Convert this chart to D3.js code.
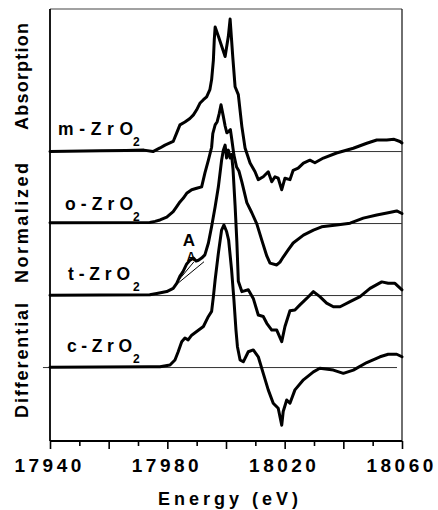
<!DOCTYPE html>
<html>
<head>
<meta charset="utf-8">
<script src="https://cdn.jsdelivr.net/npm/d3@7"></script>
<style>
  html, body { margin: 0; padding: 0; background: #fff; }
  svg { display: block; }
  text { font-family: "Liberation Sans", Arial, Helvetica, sans-serif; font-weight: bold; fill: #000; }
</style>
</head>
<body>
<svg id="chart" width="438" height="510"></svg>
<script>
// Zr K-edge XANES of the four ZrO2 polymorphs, stacked with unit offsets.
const phases = ["m", "o", "t", "c"];
const offsets = [3, 2, 1, 0];

const energyM = [17940.0, 17957.0, 17966.0, 17972.0, 17975.1, 17977.5, 17979.2, 17982.0, 17983.2, 17984.3,
  17986.0, 17987.7, 17988.9, 17990.0, 17991.1, 17992.3, 17993.4, 17994.5, 17995.1, 17995.7,
  17996.0, 17996.3, 17997.4, 17999.7, 18000.8, 18001.4, 18002.3, 18003.1, 18004.2, 18005.4,
  18006.5, 18008.2, 18009.9, 18011.0, 18012.7, 18014.4, 18015.6, 18016.7, 18017.8, 18019.0,
  18020.1, 18021.8, 18022.9, 18024.6, 18026.4, 18028.6, 18030.3, 18033.2, 18037.7, 18043.4,
  18048.0, 18051.4, 18054.8, 18057.3, 18059.3, 18060.0];
const absM = [0.00, 0.01, 0.015, 0.02, 0.00, 0.05, 0.09, 0.14, 0.26, 0.37,
  0.41, 0.46, 0.51, 0.58, 0.67, 0.72, 0.76, 0.86, 1.00, 1.27,
  1.55, 1.73, 1.60, 1.32, 1.60, 1.84, 1.32, 0.90, 0.79, 0.35,
  0.05, -0.16, -0.28, -0.39, -0.35, -0.28, -0.42, -0.35, -0.37, -0.53,
  -0.37, -0.39, -0.26, -0.23, -0.16, -0.12, -0.155, -0.09, -0.02, 0.046,
  0.115, 0.16, 0.16, 0.17, 0.14, 0.12];

const energyO = [17940.0, 17974.0, 17975.8, 17977.5, 17979.8, 17982.0, 17983.2, 17984.3, 17985.4, 17986.6,
  17988.3, 17990.0, 17991.7, 17992.8, 17994.0, 17995.1, 17995.5, 17996.3, 17997.0, 17997.7,
  17998.3, 17999.1, 17999.7, 18000.3, 18001.0, 18001.5, 18002.0, 18002.7, 18003.6, 18004.4,
  18005.4, 18007.1, 18008.8, 18010.5, 18012.2, 18013.9, 18015.0, 18017.3, 18018.4, 18019.5,
  18021.2, 18022.9, 18026.4, 18029.8, 18032.6, 18037.7, 18042.3, 18046.8, 18051.4, 18055.3,
  18058.2, 18060.0];
const absO = [0.01, 0.015, 0.03, 0.05, 0.09, 0.165, 0.235, 0.30, 0.35, 0.42,
  0.47, 0.49, 0.51, 0.70, 0.88, 1.06, 1.25, 1.37, 1.415, 1.53,
  1.65, 1.485, 1.355, 1.26, 1.285, 1.305, 1.16, 0.95, 0.785, 0.73,
  0.58, 0.29, 0.15, -0.005, -0.23, -0.45, -0.55, -0.575, -0.535, -0.465,
  -0.365, -0.27, -0.16, -0.09, -0.045, -0.02, 0.005, 0.075, 0.12, 0.15,
  0.175, 0.14];

const energyT = [17940.0, 17974.0, 17976.4, 17979.8, 17982.0, 17983.2, 17984.3, 17985.3, 17986.6, 17987.7,
  17988.9, 17989.8, 17990.6, 17991.7, 17992.8, 17994.0, 17995.1, 17996.3, 17997.4, 17998.5,
  17999.1, 17999.7, 18000.2, 18000.8, 18001.4, 18001.9, 18002.4, 18003.1, 18003.7, 18004.2,
  18005.4, 18007.6, 18009.3, 18011.0, 18012.7, 18013.9, 18015.6, 18017.3, 18019.0, 18020.1,
  18021.8, 18023.5, 18025.2, 18027.5, 18029.8, 18032.0, 18034.3, 18036.6, 18038.9, 18042.3,
  18045.7, 18049.1, 18053.1, 18055.3, 18057.6, 18060.0];
const absT = [0.005, 0.01, 0.03, 0.055, 0.10, 0.17, 0.27, 0.33, 0.44, 0.49,
  0.52, 0.48, 0.49, 0.52, 0.565, 0.73, 0.96, 1.235, 1.51, 1.88,
  2.02, 2.09, 1.91, 2.02, 1.91, 1.96, 1.75, 1.25, 0.75, 0.20,
  0.055, 0.08, -0.04, -0.27, -0.29, -0.385, -0.48, -0.48, -0.64, -0.43,
  -0.21, -0.20, -0.13, -0.04, 0.055, -0.015, -0.105, -0.155, -0.155, -0.085,
  -0.015, 0.10, 0.19, 0.17, 0.17, 0.08];

const energyC = [17940.0, 17974.0, 17977.5, 17980.9, 17982.6, 17983.7, 17984.9, 17986.0, 17987.1, 17988.3,
  17990.0, 17992.3, 17994.0, 17995.1, 17995.7, 17996.3, 17997.4, 17998.5, 17999.3, 18000.2,
  18000.9, 18001.9, 18002.7, 18003.4, 18003.9, 18004.8, 18005.9, 18007.6, 18009.3, 18011.0,
  18012.7, 18014.4, 18016.1, 18017.8, 18019.0, 18019.5, 18020.7, 18021.8, 18023.5, 18026.4,
  18029.8, 18032.0, 18036.6, 18040.0, 18043.4, 18048.0, 18052.5, 18055.3, 18058.2, 18060.0];
const absC = [0.005, 0.01, 0.012, 0.035, 0.105, 0.22, 0.36, 0.41, 0.385, 0.45,
  0.50, 0.57, 0.71, 0.78, 0.985, 1.22, 1.59, 1.91, 1.98, 1.89,
  1.77, 1.36, 0.94, 0.52, 0.29, 0.105, 0.08, 0.22, 0.245, 0.15,
  -0.08, -0.31, -0.495, -0.565, -0.80, -0.61, -0.45, -0.495, -0.31, -0.17,
  -0.06, -0.01, -0.035, -0.08, -0.035, 0.07, 0.15, 0.185, 0.185, 0.15];

const energies = [energyM, energyO, energyT, energyC];
const absorbances = [absM, absO, absT, absC];

// Reference baselines for each stacked spectrum
const baselineStart = [17940, 17940, 17940, 17937.6];
const baselineEnd = [18060, 18060, 18060, 18058.3];

// Pre-edge feature "A" guide lines on the t-ZrO2 spectrum (energy, absorbance incl. offset)
const preEdgeGuides = [
  [17983.3, 1.16, 17992.5, 1.47],
  [17984.0, 1.22, 17989.1, 1.47]
];

const xTicks = d3.range(17940, 18061, 10);
const xTickLabels = [17940, 17980, 18020, 18060];
const xTitle = "Energy (eV)";
const yWords = ["Differential", "Normalized", "Absorption"];

const svg = d3.select("#chart");
const W = 438, H = 510;
svg.append("rect").attr("width", W).attr("height", H).attr("fill", "#fff");

const x = d3.scaleLinear().domain([17940, 18060]).range([50, 402]);
const y = d3.scaleLinear().domain([-1.02, 4.98]).range([441, 9]);

// frame: top and right are thin, left and bottom are the axes
svg.append("line").attr("x1", x(17940)).attr("x2", x(18060)).attr("y1", y(4.98)).attr("y2", y(4.98))
  .attr("stroke", "#444").attr("stroke-width", 1.2);
svg.append("line").attr("x1", x(18060)).attr("x2", x(18060)).attr("y1", y(4.98)).attr("y2", y(-1.02))
  .attr("stroke", "#222").attr("stroke-width", 1.3);

// baselines
svg.append("g").selectAll("line").data(offsets).join("line")
  .attr("x1", (d, i) => x(baselineStart[i]))
  .attr("x2", (d, i) => x(baselineEnd[i]))
  .attr("y1", d => y(d)).attr("y2", d => y(d))
  .attr("stroke", "#333").attr("stroke-width", 1);

// spectra
const line = d3.line().x(d => x(d[0])).y(d => y(d[1])).curve(d3.curveLinear);
svg.append("g").selectAll("path").data(phases).join("path")
  .attr("d", (p, i) => line(energies[i].map((e, j) => [e, absorbances[i][j] + offsets[i]])))
  .attr("fill", "none").attr("stroke", "#000").attr("stroke-width", 3)
  .attr("stroke-linejoin", "round").attr("stroke-linecap", "round");

// pre-edge guides
svg.append("g").selectAll("line").data(preEdgeGuides).join("line")
  .attr("x1", d => x(d[0])).attr("y1", d => y(d[1]))
  .attr("x2", d => x(d[2])).attr("y2", d => y(d[3]))
  .attr("stroke", "#000").attr("stroke-width", 1);

// x axis
const xAxis = d3.axisBottom(x).tickValues(xTicks).tickSize(5).tickSizeOuter(0)
  .tickFormat(d => xTickLabels.includes(d) ? String(d) : "");
const gx = svg.append("g").attr("transform", `translate(0,${y(-1.02)})`).call(xAxis);
gx.select(".domain").remove();
gx.selectAll(".tick line")
  .attr("y2", d => (d - 17940) % 20 === 0 ? 8 : 5)
  .attr("stroke", "#000").attr("stroke-width", 1.6);
gx.selectAll(".tick text")
  .attr("y", 31).attr("dy", 0).attr("dx", -0.9)
  .style("font-size", "19px").style("letter-spacing", "3.5px")
  .attr("fill", "#000");

// left and bottom axis lines
svg.append("line").attr("x1", x(17940)).attr("x2", x(18060)).attr("y1", y(-1.02)).attr("y2", y(-1.02))
  .attr("stroke", "#000").attr("stroke-width", 1.8);
svg.append("line").attr("x1", x(17940)).attr("x2", x(17940)).attr("y1", y(4.98)).attr("y2", y(-1.02))
  .attr("stroke", "#000").attr("stroke-width", 1.8);

// x title
svg.append("text").attr("x", 158).attr("y", 505)
  .style("font-size", "18px").style("letter-spacing", "4px")
  .text(xTitle);

// y title, one word per segment, rotated
const yWordCenters = [360.5, 223, 76.5];
const yWordLengths = [115, 120, 107];
yWords.forEach((w, i) => {
  svg.append("text")
    .attr("transform", `translate(28,${yWordCenters[i]}) rotate(-90)`)
    .attr("text-anchor", "middle")
    .attr("textLength", yWordLengths[i]).attr("lengthAdjust", "spacing")
    .style("font-size", "18px")
    .text(w);
});

// phase labels with subscript 2
const labelX = [58, 65, 68, 67];
const labelLen = [75, 68, 62, 65];
const labelRise = [16.5, 13.5, 15.5, 15.5];
phases.forEach((p, i) => {
  const base = y(offsets[i]);
  svg.append("text")
    .attr("x", labelX[i]).attr("y", base - labelRise[i])
    .attr("textLength", labelLen[i]).attr("lengthAdjust", "spacing")
    .style("font-size", "17.5px")
    .text(p + "-ZrO");
  svg.append("text")
    .attr("x", 133).attr("y", base - labelRise[i] + 11)
    .style("font-size", "12px")
    .text("2");
});

// feature "A" on t-ZrO2
svg.append("text").attr("x", 189).attr("y", 246).attr("text-anchor", "middle")
  .style("font-size", "17px").text("A");
svg.append("text").attr("x", 191).attr("y", 261).attr("text-anchor", "middle")
  .style("font-size", "12px").text("A");
</script>
</body>
</html>
